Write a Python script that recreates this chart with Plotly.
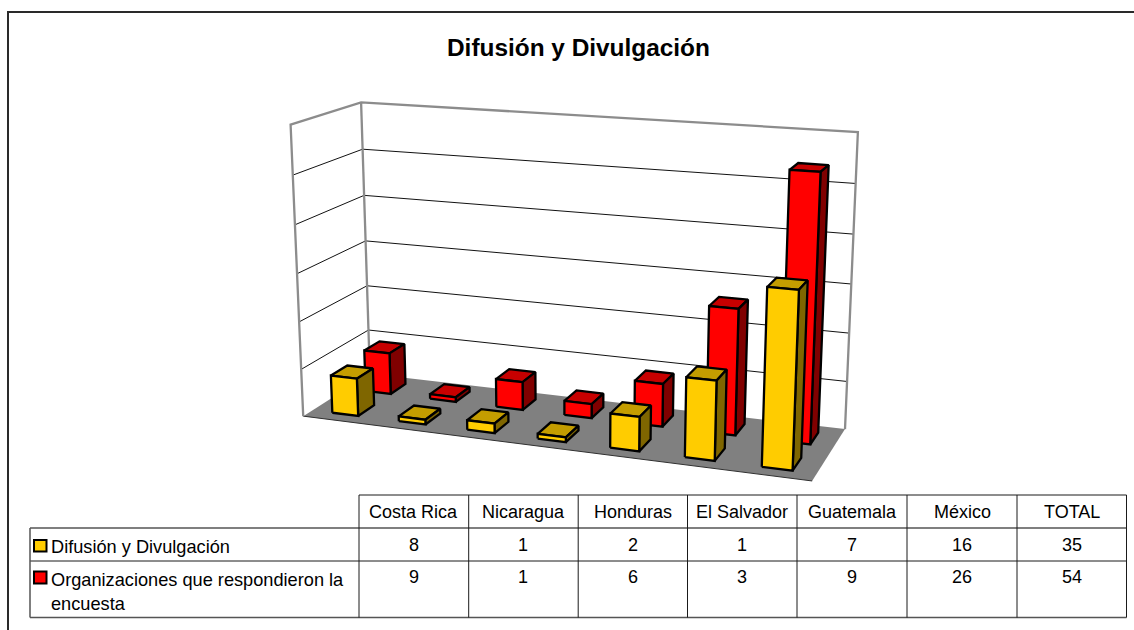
import numpy as np
import plotly.graph_objects as go

# ---- data ----
categories = ["Costa Rica", "Nicaragua", "Honduras", "El Salvador", "Guatemala", "México", "TOTAL"]
series_names = ["Difusión y Divulgación", "Organizaciones que respondieron la<br>encuesta"]
difusion = [8, 1, 2, 1, 7, 16, 35]
organizaciones = [9, 1, 6, 3, 9, 26, 54]
title_text = "Difusión y Divulgación"
axis_max = 60
axis_step = 10

# ---- style ----
FRONT = ["#FFCC00", "#FF0000"]
TOP = ["#C49D00", "#C70000"]
SIDE = ["#7F6600", "#800000"]
WALL = "#8C8C8C"
FLOOR = "#808080"
FONT = "Liberation Sans, Arial, sans-serif"

# ---- projection of the 3-D chart box (category fraction, depth fraction, height fraction) to the page ----
anchors = [
    (0, 0, 0, 303, 417), (1, 0, 0, 812, 481), (1, 1, 0, 845, 429), (0, 1, 0, 371, 373.5),
    (0, 0, 1, 291, 125), (0, 1, 1, 361, 102), (1, 1, 1, 858, 132),
    (0, 0, .5, 297, 273), (0, 1, .5, 365.5, 240.7), (1, 1, .5, 851, 283),
    (0, 0, 1 / 6, 301, 369), (0, 1, 1 / 6, 368, 330), (1, 1, 1 / 6, 847, 382),
    (0, 0, 5 / 6, 293, 175), (0, 1, 5 / 6, 362, 150), (1, 1, 5 / 6, 856, 184),
]
rows = []
for ax_, az_, ay_, px, py in anchors:
    X = [ax_, az_, ay_, 1]
    u, v = px / 1000, py / 1000
    rows.append(X + [0, 0, 0, 0] + [-u * c for c in X])
    rows.append([0, 0, 0, 0] + X + [-v * c for c in X])
P = np.linalg.svd(np.array(rows, float))[2][-1].reshape(3, 4)


def project(x, z, y):
    h = P @ np.array([x, z, y / axis_max, 1.0])
    return h[0] / h[2] * 1000, h[1] / h[2] * 1000


fig = go.Figure()


def poly(points, fill=None, line=None, width=1.0, close=True):
    pts = [project(*p) for p in points]
    if close:
        pts.append(pts[0])
    fig.add_trace(go.Scatter(
        x=[p[0] for p in pts], y=[p[1] for p in pts], mode="lines",
        fill="toself" if fill else None, fillcolor=fill,
        line=dict(color=line or fill, width=width if line else 0),
        hoverinfo="skip", showlegend=False))


# floor
poly([(0, 0, 0), (1, 0, 0), (1, 1, 0), (0, 1, 0)], fill=FLOOR)
poly([(0, 0, 0), (1, 0, 0)], line="#303030", width=1, close=False)
# gridlines
for val in range(axis_step, axis_max, axis_step):
    poly([(0, 0, val), (0, 1, val), (1, 1, val)], line="#111111", width=1, close=False)
# walls
poly([(0, 0, 0), (0, 0, axis_max), (0, 1, axis_max), (1, 1, axis_max), (1, 1, 0)], line=WALL, width=2.3, close=False)
poly([(0, 1, 0), (0, 1, axis_max)], line=WALL, width=2.3, close=False)

# bars, back row first
bar_w = 0.056
depths = [(0.13, 0.37), (0.63, 0.87)]
for s in (1, 0):
    vals = [difusion, organizaciones][s]
    z0, z1 = depths[s]
    for i, val in enumerate(vals):
        c = (i + 0.5) / len(categories)
        x0, x1 = c - bar_w / 2, c + bar_w / 2
        poly([(x0, z0, val), (x1, z0, val), (x1, z1, val), (x0, z1, val)], fill=TOP[s], line="#000000", width=2.3)
        poly([(x1, z0, 0), (x1, z1, 0), (x1, z1, val), (x1, z0, val)], fill=SIDE[s], line="#000000", width=2.3)
        poly([(x0, z0, 0), (x1, z0, 0), (x1, z0, val), (x0, z0, val)], fill=FRONT[s], line="#000000", width=2.3)

# ---- data table ----
col_x = [359, 468.7, 578.2, 687.5, 797, 907, 1017, 1126.5]
row_y = [495, 528, 561, 617.5]
label_x = 30
grid = []


def seg(x0, y0, x1, y1, color="#1a1a1a", w=1):
    grid.append(dict(type="line", xref="x", yref="y", x0=x0, y0=y0, x1=x1, y1=y1,
                     line=dict(color=color, width=w)))


seg(col_x[0], row_y[0], col_x[-1], row_y[0])
seg(label_x, row_y[1], col_x[-1], row_y[1], "#555555", 1.5)
seg(label_x, row_y[2], col_x[-1], row_y[2])
seg(label_x, row_y[3], col_x[-1], row_y[3], "#555555", 1.5)
seg(label_x, row_y[1], label_x, row_y[3], "#555555", 1.5)
for cx in col_x:
    seg(cx, row_y[0], cx, row_y[3])

# chart area border (open on the right and at the bottom, as in the picture)
seg(8, 630, 8, 12, "#2a2a2a", 2)
seg(7, 12, 1134, 12, "#2a2a2a", 2)

# legend keys
for s, (y0, y1) in enumerate([(540, 551.5), (571.5, 583.5)]):
    grid.append(dict(type="rect", xref="x", yref="y", x0=34, x1=46.5, y0=y0, y1=y1,
                     fillcolor=FRONT[s], line=dict(color="#000000", width=2)))

notes = [dict(x=578, y=47.5, text=f"<b>{title_text}</b>", font=dict(size=24.4, family=FONT, color="#000000"),
              showarrow=False, xanchor="center", yanchor="middle")]


def cell(x, y, text, xanchor="center", align="center", size=18):
    notes.append(dict(x=x, y=y, text=str(text), showarrow=False, xanchor=xanchor, yanchor="middle", align=align,
                      xref="x", yref="y", font=dict(size=size, family=FONT, color="#000000")))


for j, h in enumerate(categories):
    xc = (col_x[j] + col_x[j + 1]) / 2
    cell(xc, 512, h)
    cell(xc, 544.5, difusion[j])
    cell(xc, 577, organizaciones[j])
cell(49, 547, series_names[0], "left", "left", 18.2)
cell(49, 592, series_names[1], "left", "left", 18.2)

fig.update_layout(
    width=1134, height=630, margin=dict(l=0, r=0, t=0, b=0),
    paper_bgcolor="white", plot_bgcolor="white", showlegend=False,
    xaxis=dict(range=[0, 1134], visible=False, fixedrange=True),
    yaxis=dict(range=[630, 0], visible=False, fixedrange=True),
    shapes=grid, annotations=notes,
)
fig.write_html("out.html", config=dict(displayModeBar=False),
               post_script="document.body.style.margin='0';document.documentElement.style.overflow='hidden';")
